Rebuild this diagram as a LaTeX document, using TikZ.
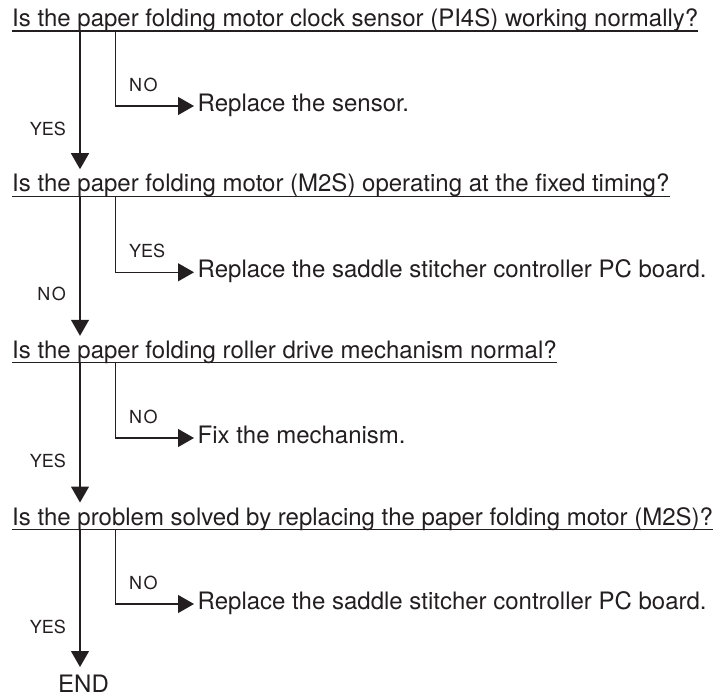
\documentclass[tikz,border=0pt]{standalone}
\usepackage{fontspec}
\setmainfont{TeX Gyre Heros}
\usetikzlibrary{arrows.meta,calc}
\definecolor{ink}{RGB}{35,31,32}
\begin{document}
\begin{tikzpicture}[x=1pt,y=-1pt,
  q/.style={anchor=base west,inner sep=0,font=\fontsize{24}{28}\selectfont,text=ink},
  act/.style={anchor=base west,inner sep=0,font=\fontsize{24}{28}\selectfont,text=ink},
  lbl/.style={inner sep=0,font=\fontsize{18}{21}\selectfont,text=ink},
  ln/.style={draw=ink,line width=1.2pt},
  arr/.style={draw=ink,line width=1.2pt,-{Triangle[length=16pt,width=18pt]}}]
\fill[white] (0,0) rectangle (713,696);
\useasboundingbox (0,0) rectangle (713,696);

% questions
\node[q] (q1) at (12,26.5) {Is the paper folding motor clock sensor (PI4S) working normally?};
\node[q] (q2) at (12,191.7) {Is the paper folding motor (M2S) operating at the fixed timing?};
\node[q] (q3) at (12,358.3) {Is the paper folding roller drive mechanism normal?};
\node[q] (q4) at (12,525) {Is the problem solved by replacing the paper folding motor (M2S)?};
\foreach \n in {q1,q2,q3,q4}
  \draw[ln] ($(\n.base west)+(0,4.5)$) -- ($(\n.base east)+(0,4.5)$);

% actions
\node[act] (r1) at (197.5,111) {Replace the sensor.};
\node[act] (r2) at (197.5,277.3) {Replace the saddle stitcher controller PC board.};
\node[act] (r3) at (197.5,443) {Fix the mechanism.};
\node[act] (r4) at (197.5,609) {Replace the saddle stitcher controller PC board.};

% end
\node[anchor=base west,inner sep=0,font=\fontsize{24}{28}\selectfont,text=ink] (end) at (58,692) {END};

% main flow
\draw[arr] ($(q1.base west)+(68,4.5)$) -- ($(q2.base west)+(68,-22.5)$);
\draw[arr] ($(q2.base west)+(68,4.5)$) -- ($(q3.base west)+(68,-22.5)$);
\draw[arr] ($(q3.base west)+(68,4.5)$) -- ($(q4.base west)+(68,-22.5)$);
\draw[arr] ($(q4.base west)+(68,4.5)$) -- ($(end.base west)+(22,-25)$);

% branches
\draw[arr] ($(q1.base west)+(103.5,4.5)$) |- ($(r1.base west)+(-3.5,-5)$);
\draw[arr] ($(q2.base west)+(103.5,4.5)$) |- ($(r2.base west)+(-3.5,-5)$);
\draw[arr] ($(q3.base west)+(103.5,4.5)$) |- ($(r3.base west)+(-3.5,-5)$);
\draw[arr] ($(q4.base west)+(103.5,4.5)$) |- ($(r4.base west)+(-3.5,-5)$);

% labels
\node[lbl,anchor=base west] (n1) at (129,91) {N\kern1.5pt O};
\node[lbl,anchor=base east] (y1) at (66,135) {YES};
\node[lbl,anchor=base west] (y2) at (129,257) {YES};
\node[lbl,anchor=base east] (n2) at (66,300.5) {N\kern1.5pt O};
\node[lbl,anchor=base west] (n3) at (129,423) {N\kern1.5pt O};
\node[lbl,anchor=base east] (y3) at (66,467) {YES};
\node[lbl,anchor=base west] (n4) at (129,589) {N\kern1.5pt O};
\node[lbl,anchor=base east] (y4) at (66,633) {YES};
\end{tikzpicture}
\end{document}
